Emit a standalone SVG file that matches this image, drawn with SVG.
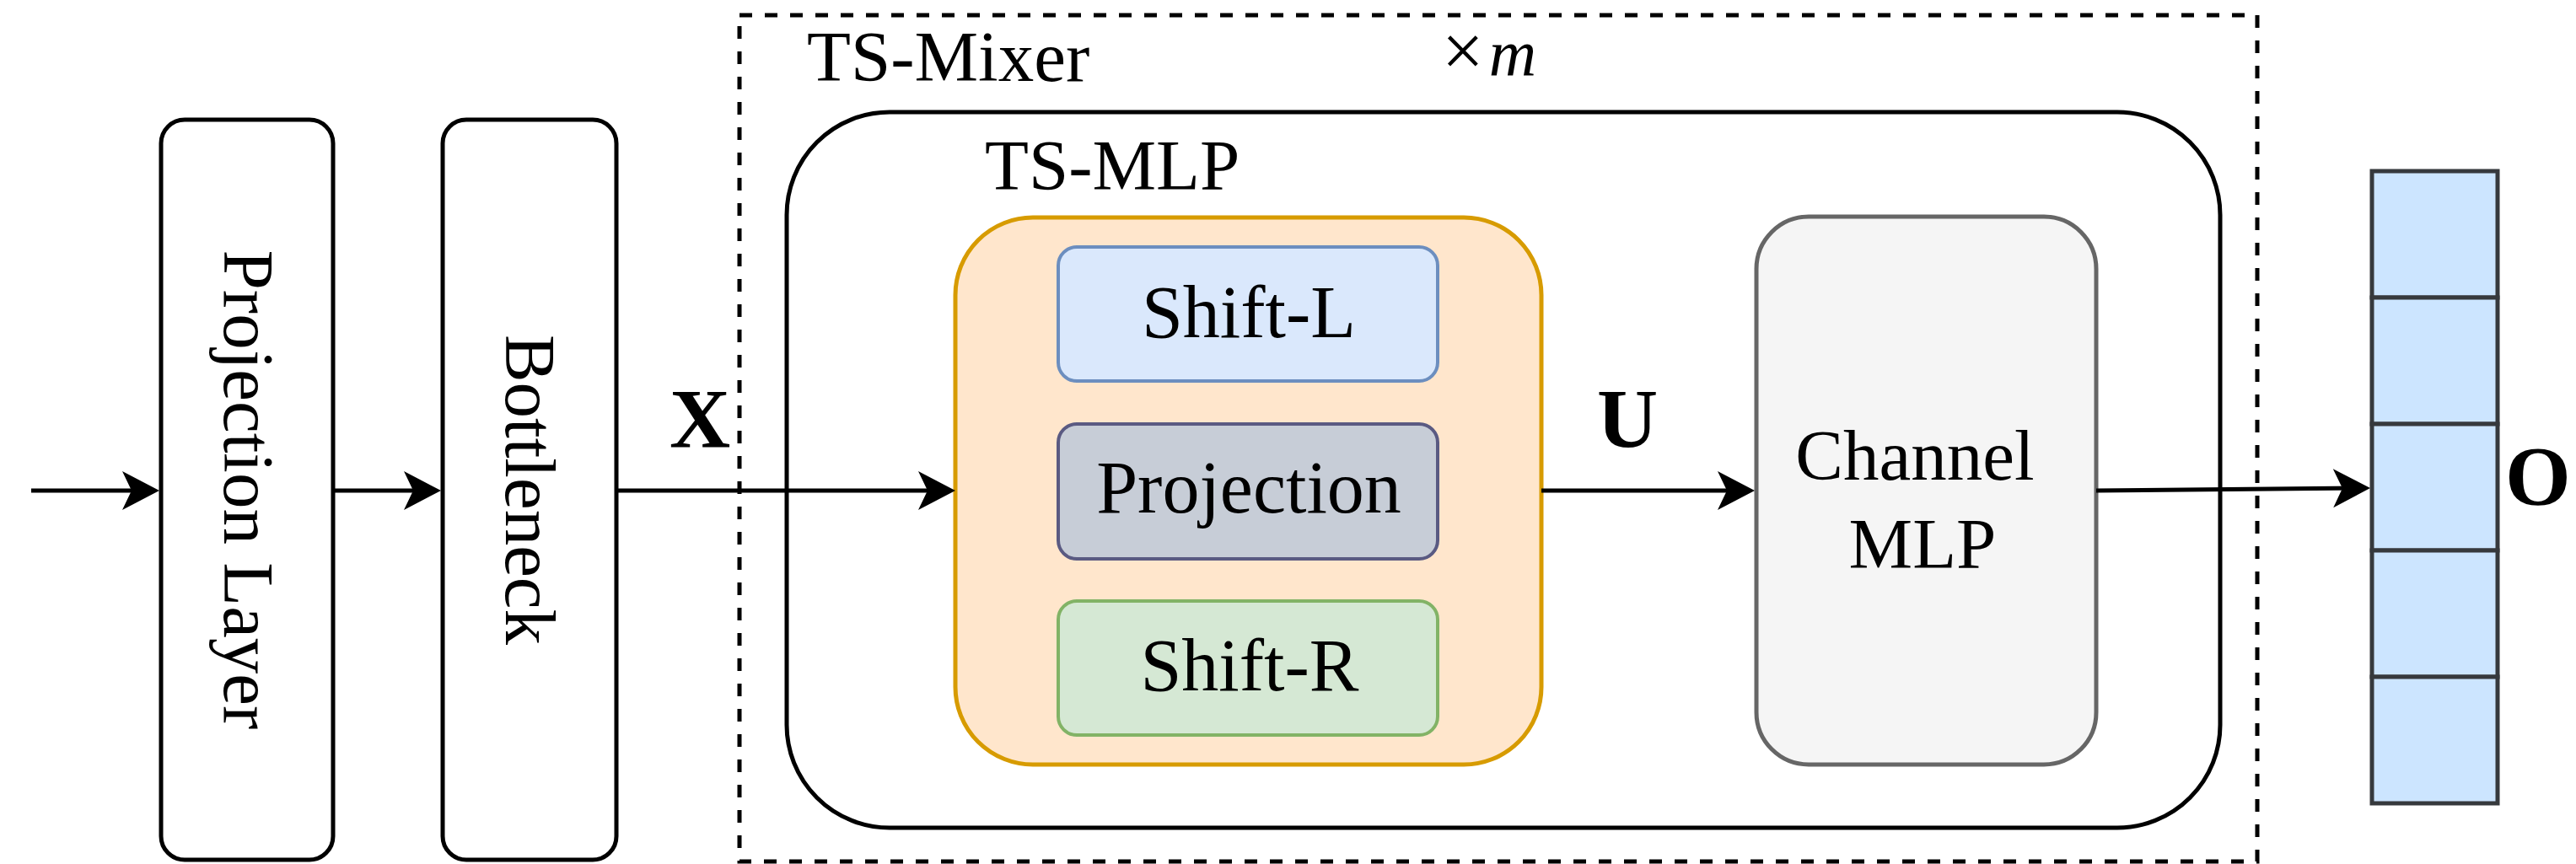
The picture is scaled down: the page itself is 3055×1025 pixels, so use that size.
<svg xmlns="http://www.w3.org/2000/svg" width="3055" height="1025" viewBox="0 0 3055 1025">
<defs>
<style>
text{font-family:"Liberation Serif","Times New Roman",serif;fill:#000}
.lbl{font-size:85px}
.inner{font-size:88px;text-anchor:middle}
.bold{font-size:100px;font-weight:bold;text-anchor:middle}
.blk{fill:#fff;stroke:#000;stroke-width:5}
.conn{stroke:#000;stroke-width:5;fill:none}
.cell{fill:#cce5ff;stroke:#36393d;stroke-width:5}
</style>
<marker id="arr" markerUnits="userSpaceOnUse" viewBox="-40 -25 55 50" markerWidth="55" markerHeight="50" refX="0" refY="0" orient="auto">
<path d="M10,0 L-34,-23 L-23,0 L-34,23 Z" fill="#000"/>
</marker>
</defs>
<rect width="3055" height="1025" fill="#fff"/>

<g id="ts-mixer">
<rect x="877" y="18" width="1800" height="1004" fill="none" stroke="#000" stroke-width="5" stroke-dasharray="15 15"/>
<text class="lbl" x="957" y="96">TS-Mixer</text>
<text style="font-size:78px" x="1710" y="90"><tspan font-size="88px">×</tspan><tspan font-style="italic" dx="6">m</tspan></text>
</g>

<g id="ts-mlp-block">
<rect class="blk" x="933" y="133" width="1700" height="849" rx="122"/>
<text class="lbl" x="1168" y="225">TS-MLP</text>
</g>

<g id="projection-layer">
<rect class="blk" x="191" y="142" width="204" height="878" rx="28"/>
<text class="lbl" x="266" y="581" text-anchor="middle" transform="rotate(90 266 581)">Projection Layer</text>
</g>

<g id="bottleneck">
<rect class="blk" x="525" y="142" width="206" height="878" rx="28"/>
<text class="lbl" x="600" y="581" text-anchor="middle" transform="rotate(90 600 581)">Bottleneck</text>
</g>

<g id="ts-mlp">
<rect x="1133" y="258" width="695" height="649" rx="92" fill="#ffe6cc" stroke="#d79b00" stroke-width="5"/>
</g>

<g id="shift-l">
<rect x="1255" y="293" width="450" height="159" rx="22" fill="#dae8fc" stroke="#6c8ebf" stroke-width="4"/>
<text class="inner" x="1481" y="400">Shift-L</text>
</g>

<g id="projection">
<rect x="1255" y="503" width="450" height="160" rx="22" fill="#c7cdd7" stroke="#5a5a82" stroke-width="4"/>
<text class="inner" x="1481" y="608">Projection</text>
</g>

<g id="shift-r">
<rect x="1255" y="713" width="450" height="159" rx="22" fill="#d5e8d4" stroke="#82b366" stroke-width="4"/>
<text class="inner" x="1482" y="819">Shift-R</text>
</g>

<g id="channel-mlp">
<rect x="2083" y="257" width="403" height="650" rx="62" fill="#f5f5f5" stroke="#666666" stroke-width="5"/>
<text class="lbl" x="2271" y="569" text-anchor="middle">Channel</text>
<text class="lbl" x="2280" y="674" text-anchor="middle">MLP</text>
</g>

<g id="output">
<rect class="cell" x="2813" y="203" width="149" height="150"/>
<rect class="cell" x="2813" y="353" width="149" height="150"/>
<rect class="cell" x="2813" y="503" width="149" height="150"/>
<rect class="cell" x="2813" y="653" width="149" height="150"/>
<rect class="cell" x="2813" y="803" width="149" height="150"/>
</g>

<g id="connectors">
<line class="conn" x1="37" y1="582" x2="179" y2="582" marker-end="url(#arr)"/>
<line class="conn" x1="396" y1="582" x2="513" y2="582" marker-end="url(#arr)"/>
<line class="conn" x1="732" y1="582" x2="1123" y2="582" marker-end="url(#arr)"/>
<line class="conn" x1="1828" y1="582" x2="2071" y2="582" marker-end="url(#arr)"/>
<line class="conn" x1="2486" y1="582" x2="2801" y2="579" marker-end="url(#arr)"/>
<text class="bold" x="830" y="530">X</text>
<text class="bold" x="1930" y="530">U</text>
<text class="bold" x="3010" y="598">O</text>
</g>
</svg>
